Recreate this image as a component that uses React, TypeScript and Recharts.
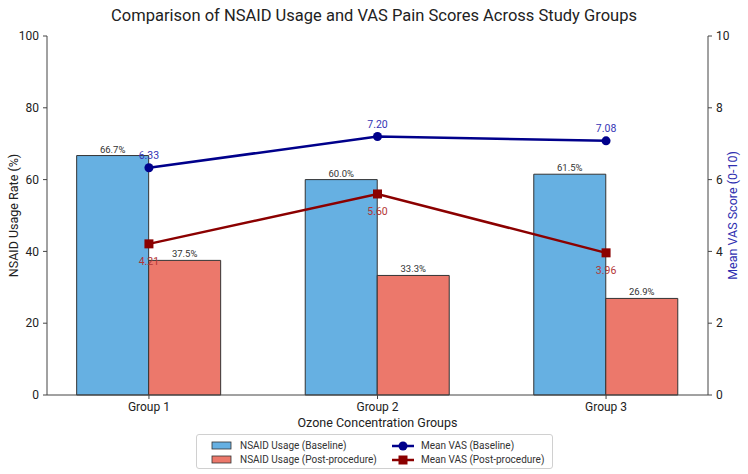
import React from "react";
import {
  ComposedChart,
  Bar,
  Line,
  XAxis,
  YAxis,
  LabelList,
} from "recharts";

const groups = ["Group 1", "Group 2", "Group 3"];
const nsaidBaseline = [66.7, 60.0, 61.5];
const nsaidPost = [37.5, 33.3, 26.9];
const vasBaseline = [6.33, 7.2, 7.08];
const vasPost = [4.21, 5.6, 3.96];
const leftTicks = [0, 20, 40, 60, 80, 100];
const rightTicks = [0, 2, 4, 6, 8, 10];

const BLUE_BAR = "#66b0e2";
const RED_BAR = "#ec786b";
const BLUE_LINE = "#00008b";
const RED_LINE = "#8b0000";
const AXIS = "#444";

const data = groups.map((g, i) => ({
  idx: i,
  name: g,
  nsaidBaseline: nsaidBaseline[i],
  nsaidPost: nsaidPost[i],
  vasBaseline: vasBaseline[i],
  vasPost: vasPost[i],
}));

const xDomain: [number, number] = [-0.446, 2.446];

const SquareDot = (props: any) => {
  const { cx, cy } = props;
  if (cx == null || cy == null) return null;
  return <rect x={cx - 4.5} y={cy - 4.5} width={9} height={9} fill={RED_LINE} />;
};

const legendItems = [
  { top: 4, left: 14, kind: "bar", color: BLUE_BAR, text: "NSAID Usage (Baseline)" },
  { top: 18, left: 14, kind: "bar", color: RED_BAR, text: "NSAID Usage (Post-procedure)" },
  { top: 4, left: 195, kind: "circle", color: BLUE_LINE, text: "Mean VAS (Baseline)" },
  { top: 18, left: 195, kind: "square", color: RED_LINE, text: "Mean VAS (Post-procedure)" },
];

const LegendBox = () => (
  <div
    style={{
      position: "absolute",
      left: 196,
      top: 434,
      width: 357,
      height: 35,
      border: "1px solid #d0d0d0",
      borderRadius: 3,
      boxSizing: "border-box",
      fontSize: 10,
      color: "#333",
      background: "#fff",
    }}
  >
    {legendItems.map((it) => (
      <div
        key={it.text}
        style={{ position: "absolute", top: it.top, left: it.left, display: "flex", alignItems: "center", height: 13 }}
      >
        <svg width={22} height={12} style={{ marginRight: 7 }}>
          {it.kind === "bar" ? (
            <rect x={1} y={2} width={19} height={7} fill={it.color} stroke="#333" strokeWidth={0.8} />
          ) : (
            <g>
              <line x1={0} y1={6} x2={22} y2={6} stroke={it.color} strokeWidth={2.5} />
              {it.kind === "circle" ? (
                <circle cx={11} cy={6} r={4.5} fill={it.color} />
              ) : (
                <rect x={6.5} y={1.5} width={9} height={9} fill={it.color} />
              )}
            </g>
          )}
        </svg>
        <span style={{ whiteSpace: "nowrap" }}>{it.text}</span>
      </div>
    ))}
  </div>
);

export default function App() {
  return (
    <div
      style={{
        position: "absolute",
        left: 0,
        top: 0,
        width: 748,
        height: 474,
        background: "#fff",
        fontFamily: "Roboto, 'Open Sans', sans-serif",
      }}
    >
      <div
        style={{
          position: "absolute",
          top: 6,
          left: 0,
          width: 748,
          textAlign: "center",
          fontSize: 16.5,
          color: "#222",
        }}
      >
        Comparison of NSAID Usage and VAS Pain Scores Across Study Groups
      </div>
      <ComposedChart
        width={748}
        height={474}
        data={data}
        margin={{ top: 36, right: 0, bottom: 48, left: 0 }}
        barGap={0}
      >
        <XAxis
          dataKey="idx"
          type="number"
          domain={xDomain}
          ticks={[0, 1, 2]}
          tickFormatter={(v: number) => groups[v] ?? ""}
          height={31}
          tickSize={4}
          tickMargin={3}
          stroke={AXIS}
          tick={{ fill: "#222", fontSize: 12 }}
          allowDataOverflow
          label={{
            value: "Ozone Concentration Groups",
            position: "insideBottom",
            offset: -1,
            fill: "#222",
            fontSize: 12.5,
          }}
        />
        <XAxis
          xAxisId="top"
          orientation="top"
          type="number"
          domain={xDomain}
          height={0}
          tick={false}
          tickLine={false}
          stroke={AXIS}
          allowDataOverflow
        />
        <YAxis
          yAxisId="left"
          domain={[0, 100]}
          ticks={leftTicks}
          width={47}
          tickSize={4}
          tickMargin={4}
          stroke={AXIS}
          tick={{ fill: "#222", fontSize: 12 }}
          label={{
            value: "NSAID Usage Rate (%)",
            angle: -90,
            position: "center",
            dx: -10,
            fill: "#222",
            fontSize: 12.5,
          }}
        />
        <YAxis
          yAxisId="right"
          orientation="right"
          domain={[0, 10]}
          ticks={rightTicks}
          width={40}
          tickSize={4}
          tickMargin={4}
          stroke={AXIS}
          tick={{ fill: "#222", fontSize: 12 }}
          label={{
            value: "Mean VAS Score (0-10)",
            angle: -90,
            position: "center",
            dx: 5,
            fill: "#2f2fb0",
            fontSize: 12.5,
          }}
        />
        <Bar
          yAxisId="left"
          dataKey="nsaidBaseline"
          barSize={72}
          fill={BLUE_BAR}
          stroke="#333"
          strokeWidth={1}
          isAnimationActive={false}
        >
          <LabelList
            dataKey="nsaidBaseline"
            position="top"
            offset={3}
            formatter={(v: any) => `${Number(v).toFixed(1)}%`}
            style={{ fill: "#333", fontSize: 9.5 }}
          />
        </Bar>
        <Bar
          yAxisId="left"
          dataKey="nsaidPost"
          barSize={72}
          fill={RED_BAR}
          stroke="#333"
          strokeWidth={1}
          isAnimationActive={false}
        >
          <LabelList
            dataKey="nsaidPost"
            position="top"
            offset={3}
            formatter={(v: any) => `${Number(v).toFixed(1)}%`}
            style={{ fill: "#333", fontSize: 9.5 }}
          />
        </Bar>
        <Line
          yAxisId="right"
          dataKey="vasBaseline"
          stroke={BLUE_LINE}
          strokeWidth={2.5}
          dot={{ r: 4.5, fill: BLUE_LINE, stroke: BLUE_LINE, strokeWidth: 0 }}
          activeDot={false}
          isAnimationActive={false}
        >
          <LabelList
            dataKey="vasBaseline"
            position="top"
            offset={9}
            formatter={(v: any) => Number(v).toFixed(2)}
            style={{ fill: "#3535b5", fontSize: 10.5 }}
          />
        </Line>
        <Line
          yAxisId="right"
          dataKey="vasPost"
          stroke={RED_LINE}
          strokeWidth={2.5}
          dot={<SquareDot />}
          activeDot={false}
          isAnimationActive={false}
        >
          <LabelList
            dataKey="vasPost"
            position="bottom"
            offset={14}
            formatter={(v: any) => Number(v).toFixed(2)}
            style={{ fill: "#b33535", fontSize: 10.5 }}
          />
        </Line>
      </ComposedChart>
      <LegendBox />
    </div>
  );
}
